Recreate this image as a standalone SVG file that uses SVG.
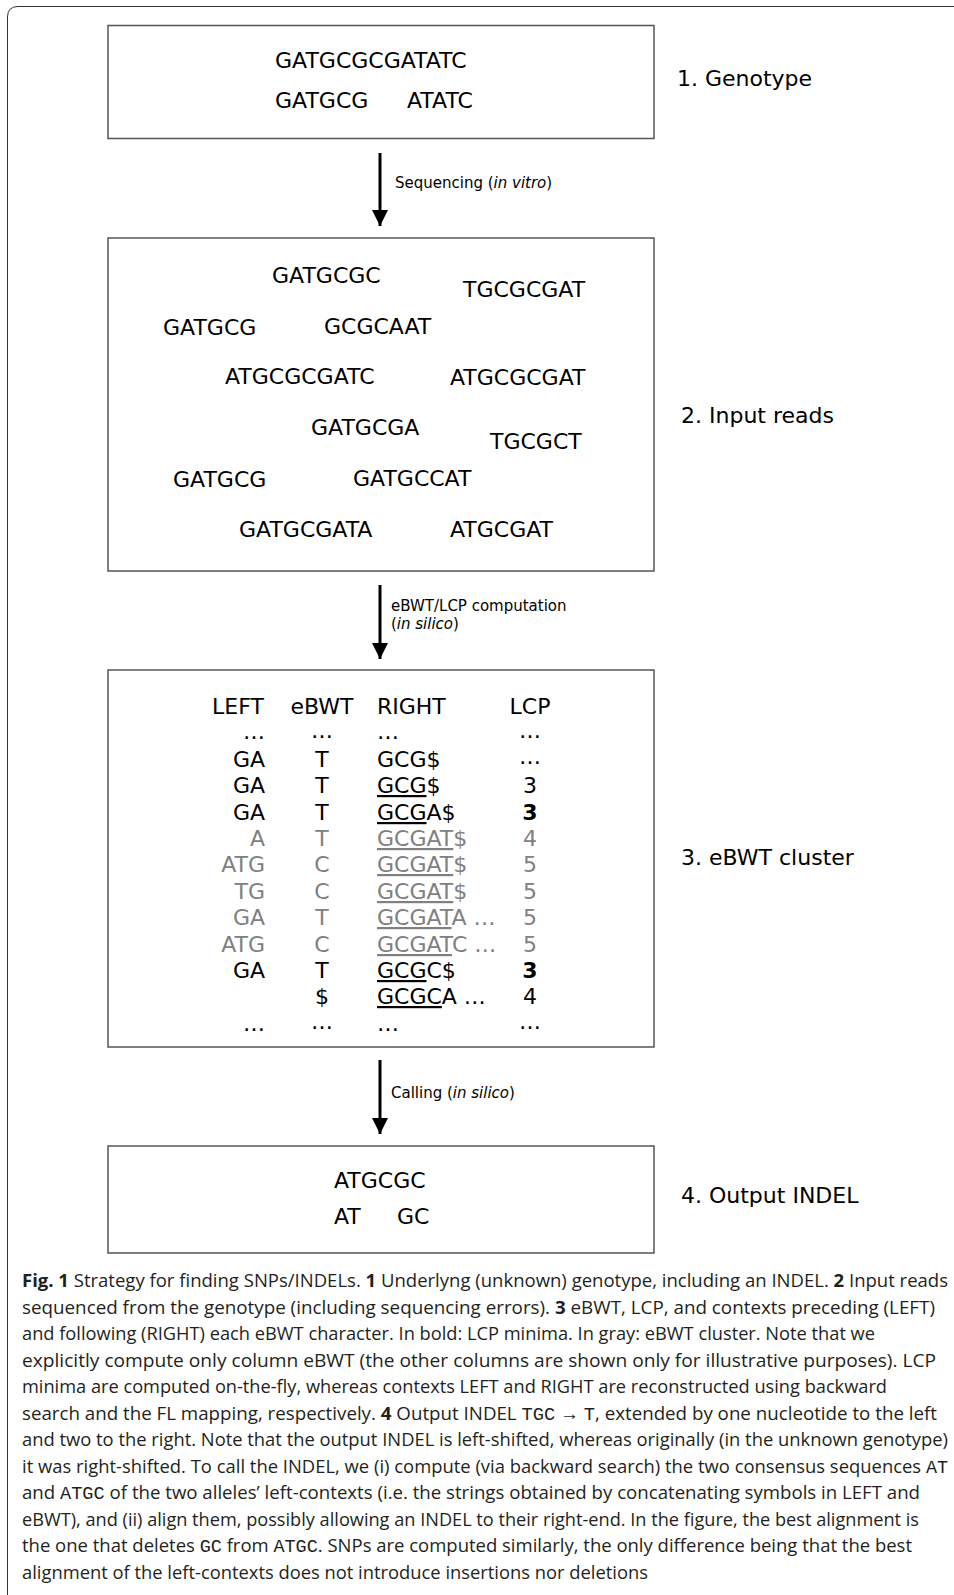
<svg xmlns="http://www.w3.org/2000/svg" width="954" height="1595" viewBox="0 0 954 1595">
<defs>
<style>
.box{fill:#fff;stroke:#555;stroke-width:1.5}
.t{font-family:"DejaVu Sans",Verdana,sans-serif;font-size:22px;fill:#000}
.lab{font-family:"DejaVu Sans",Verdana,sans-serif;font-size:15px;fill:#000}
.g{fill:#808080}
.u{text-decoration:underline}
.b{font-weight:bold}
.cap{font-family:"Open Sans","Liberation Sans",sans-serif;font-size:18.5px;fill:#231f20}
.mono{font-family:"Liberation Mono","DejaVu Sans Mono",monospace;font-weight:normal}
.arr{stroke:#000;stroke-width:3}
</style>
<marker id="ah" viewBox="0 0 10 10" refX="10" refY="5" markerWidth="5.5" markerHeight="5.5" orient="auto" markerUnits="strokeWidth">
<path d="M0,0 L10,5 L0,10 z" fill="#000"/>
</marker>
</defs>
<rect width="954" height="1595" fill="#fff"/>
<path d="M7.5,1595 V17 Q7.5,6.5 18,6.5 H954" fill="none" stroke="#333" stroke-width="1"/>

<g id="connectors">
<line class="arr" x1="380" y1="153" x2="380" y2="226" marker-end="url(#ah)"/>
<text class="lab" x="395" y="188">Sequencing (<tspan font-style="italic">in vitro</tspan>)</text>
<line class="arr" x1="380" y1="585" x2="380" y2="659" marker-end="url(#ah)"/>
<text class="lab" x="391" y="611">eBWT/LCP computation</text>
<text class="lab" x="391" y="629">(<tspan font-style="italic">in silico</tspan>)</text>
<line class="arr" x1="380" y1="1060" x2="380" y2="1134" marker-end="url(#ah)"/>
<text class="lab" x="391" y="1098">Calling (<tspan font-style="italic">in silico</tspan>)</text>
</g>

<g id="genotype">
<rect class="box" x="108" y="25.5" width="546" height="113"/>
<text class="t" x="275" y="68">GATGCGCGATATC</text>
<text class="t" x="275" y="108">GATGCG</text>
<text class="t" x="407" y="108">ATATC</text>
<text class="t" x="677" y="86">1. Genotype</text>
</g>

<g id="reads">
<rect class="box" x="108" y="238" width="546" height="333"/>
<text class="t" x="272" y="283">GATGCGC</text>
<text class="t" x="463" y="297">TGCGCGAT</text>
<text class="t" x="163" y="335">GATGCG</text>
<text class="t" x="324" y="334">GCGCAAT</text>
<text class="t" x="225" y="384">ATGCGCGATC</text>
<text class="t" x="450" y="385">ATGCGCGAT</text>
<text class="t" x="311" y="435">GATGCGA</text>
<text class="t" x="490" y="449">TGCGCT</text>
<text class="t" x="173" y="487">GATGCG</text>
<text class="t" x="353" y="486">GATGCCAT</text>
<text class="t" x="239" y="537">GATGCGATA</text>
<text class="t" x="450" y="537">ATGCGAT</text>
<text class="t" x="681" y="423">2. Input reads</text>
</g>

<g id="cluster">
<rect class="box" x="108" y="670" width="546" height="377"/>
<text class="t" x="212" y="714">LEFT</text>
<text class="t" x="322" y="714" text-anchor="middle">eBWT</text>
<text class="t" x="377" y="714">RIGHT</text>
<text class="t" x="530" y="714" text-anchor="middle">LCP</text>
<g text-anchor="end">
<text class="t" x="265" y="739">…</text>
<text class="t" x="265" y="767">GA</text>
<text class="t" x="265" y="793">GA</text>
<text class="t" x="265" y="820">GA</text>
<text class="t g" x="265" y="846">A</text>
<text class="t g" x="265" y="872">ATG</text>
<text class="t g" x="265" y="899">TG</text>
<text class="t g" x="265" y="925">GA</text>
<text class="t g" x="265" y="952">ATG</text>
<text class="t" x="265" y="978">GA</text>
<text class="t" x="265" y="1031">…</text>
</g>
<g text-anchor="middle">
<text class="t" x="322" y="738">…</text>
<text class="t" x="322" y="767">T</text>
<text class="t" x="322" y="793">T</text>
<text class="t" x="322" y="820">T</text>
<text class="t g" x="322" y="846">T</text>
<text class="t g" x="322" y="872">C</text>
<text class="t g" x="322" y="899">C</text>
<text class="t g" x="322" y="925">T</text>
<text class="t g" x="322" y="952">C</text>
<text class="t" x="322" y="978">T</text>
<text class="t" x="322" y="1004">$</text>
<text class="t" x="322" y="1029">…</text>
</g>
<text class="t" x="377" y="739">…</text>
<text class="t" x="377" y="767">GCG$</text>
<text class="t" x="377" y="793"><tspan class="u">GCG</tspan>$</text>
<text class="t" x="377" y="820"><tspan class="u">GCG</tspan>A$</text>
<text class="t g" x="377" y="846"><tspan class="u">GCGAT</tspan>$</text>
<text class="t g" x="377" y="872"><tspan class="u">GCGAT</tspan>$</text>
<text class="t g" x="377" y="899"><tspan class="u">GCGAT</tspan>$</text>
<text class="t g" x="377" y="925"><tspan class="u">GCGAT</tspan>A …</text>
<text class="t g" x="377" y="952"><tspan class="u">GCGAT</tspan>C …</text>
<text class="t" x="377" y="978"><tspan class="u">GCG</tspan>C$</text>
<text class="t" x="377" y="1004"><tspan class="u">GCGC</tspan>A …</text>
<text class="t" x="377" y="1031">…</text>
<g text-anchor="middle">
<text class="t" x="530" y="738">…</text>
<text class="t" x="530" y="764">…</text>
<text class="t" x="530" y="793">3</text>
<text class="t b" x="530" y="820">3</text>
<text class="t g" x="530" y="846">4</text>
<text class="t g" x="530" y="872">5</text>
<text class="t g" x="530" y="899">5</text>
<text class="t g" x="530" y="925">5</text>
<text class="t g" x="530" y="952">5</text>
<text class="t b" x="530" y="978">3</text>
<text class="t" x="530" y="1004">4</text>
<text class="t" x="530" y="1029">…</text>
</g>
<text class="t" x="681" y="865">3. eBWT cluster</text>
</g>

<g id="output">
<rect class="box" x="108" y="1146" width="546" height="107"/>
<text class="t" x="334" y="1188">ATGCGC</text>
<text class="t" x="334" y="1224">AT</text>
<text class="t" x="397" y="1224">GC</text>
<text class="t" x="681" y="1203">4. Output INDEL</text>
</g>

<g id="caption" class="cap">
<text x="22" y="1287" textLength="926" lengthAdjust="spacingAndGlyphs"><tspan class="b">Fig. 1</tspan>  Strategy for finding SNPs/INDELs. <tspan class="b">1</tspan> Underlyng (unknown) genotype, including an INDEL. <tspan class="b">2</tspan> Input reads</text>
<text x="22" y="1313.5" textLength="913" lengthAdjust="spacingAndGlyphs">sequenced from the genotype (including sequencing errors). <tspan class="b">3</tspan> eBWT, LCP, and contexts preceding (LEFT)</text>
<text x="22" y="1340" textLength="853" lengthAdjust="spacingAndGlyphs">and following (RIGHT) each eBWT character. In bold: LCP minima. In gray: eBWT cluster. Note that we</text>
<text x="22" y="1366.5" textLength="914" lengthAdjust="spacingAndGlyphs">explicitly compute only column eBWT (the other columns are shown only for illustrative purposes). LCP</text>
<text x="22" y="1393" textLength="865" lengthAdjust="spacingAndGlyphs">minima are computed on-the-fly, whereas contexts LEFT and RIGHT are reconstructed using backward</text>
<text x="22" y="1419.5" textLength="915" lengthAdjust="spacingAndGlyphs">search and the FL mapping, respectively. <tspan class="b">4</tspan> Output INDEL <tspan class="mono">TGC</tspan> → <tspan class="mono">T</tspan>, extended by one nucleotide to the left</text>
<text x="22" y="1446" textLength="926" lengthAdjust="spacingAndGlyphs">and two to the right. Note that the output INDEL is left-shifted, whereas originally (in the unknown genotype)</text>
<text x="22" y="1472.5" textLength="926" lengthAdjust="spacingAndGlyphs">it was right-shifted. To call the INDEL, we (i) compute (via backward search) the two consensus sequences <tspan class="mono">AT</tspan></text>
<text x="22" y="1499" textLength="898" lengthAdjust="spacingAndGlyphs">and <tspan class="mono">ATGC</tspan> of the two alleles’ left-contexts (i.e. the strings obtained by concatenating symbols in LEFT and</text>
<text x="22" y="1525.5" textLength="897" lengthAdjust="spacingAndGlyphs">eBWT), and (ii) align them, possibly allowing an INDEL to their right-end. In the figure, the best alignment is</text>
<text x="22" y="1552" textLength="890" lengthAdjust="spacingAndGlyphs">the one that deletes <tspan class="mono">GC</tspan> from <tspan class="mono">ATGC</tspan>. SNPs are computed similarly, the only difference being that the best</text>
<text x="22" y="1578.5" textLength="626" lengthAdjust="spacingAndGlyphs">alignment of the left-contexts does not introduce insertions nor deletions</text>
</g>
</svg>
